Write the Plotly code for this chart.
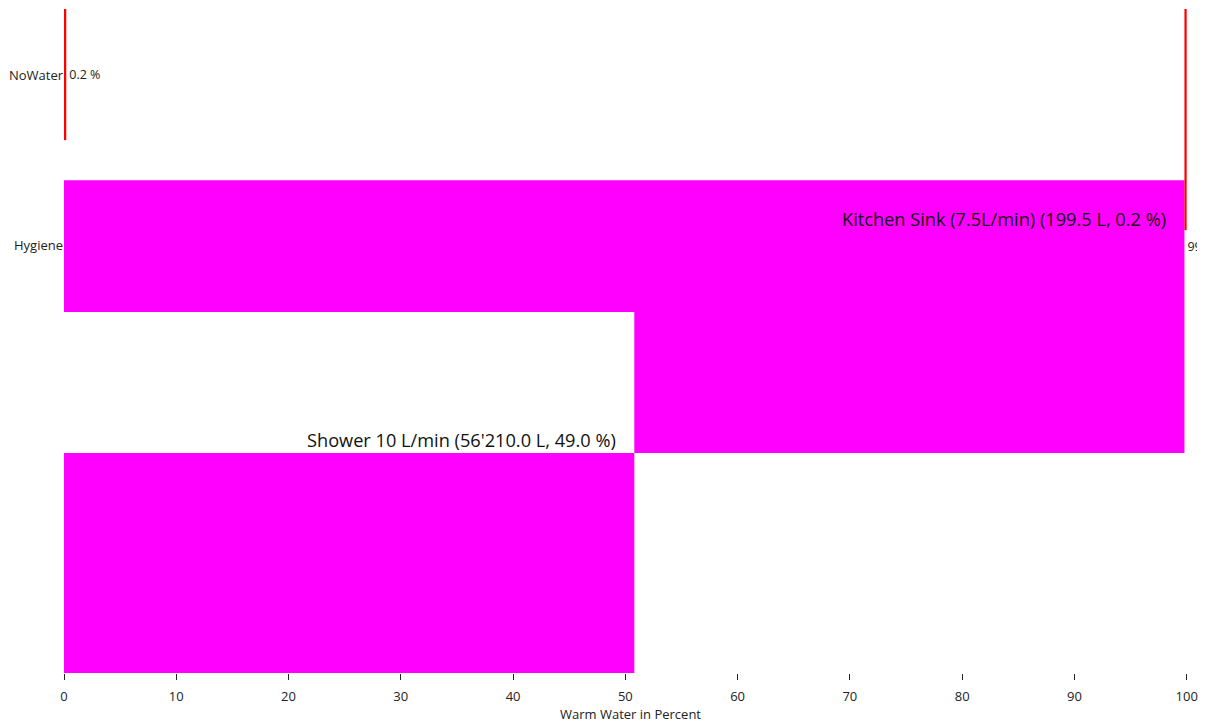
import plotly.graph_objects as go

# ---- data (axis units) ----
row_labels = ["NoWater", "Hygiene"]
row_pos = [0, 1]

bar_names = ["NoWater", "Hygiene", "Kitchen Sink (7.5L/min)", "Shower 10 L/min", "Other"]
x_start = [0.0, 0.0, 99.8, 50.8, 0.0]
x_len = [0.2, 99.8, 0.2, 49.0, 50.8]
y_top = [-0.39, 0.618, -0.39, 1.394, 2.224]
y_bot = [0.382, 1.394, 0.912, 2.224, 3.52]
colors = ["#ff0000", "#ff00ff", "#ff0000", "#ff00ff", "#ff00ff"]
bar_text = ["0.2 %", "99.8 %", "", "", ""]

note_texts = ["Kitchen Sink (7.5L/min) (199.5 L, 0.2 %)", "Shower 10 L/min (56'210.0 L, 49.0 %)"]
note_idx = [2, 3]

x_ticks = [0, 10, 20, 30, 40, 50, 60, 70, 80, 90, 100]

FONT = "Open Sans"
note_yshift = [-3, -1]

fig = go.Figure()
for i in range(len(bar_names)):
    fig.add_trace(go.Bar(
        orientation="h",
        y=[(y_top[i] + y_bot[i]) / 2],
        x=[x_len[i]],
        base=[x_start[i]],
        width=[y_bot[i] - y_top[i]],
        marker=dict(color=colors[i], line=dict(width=0)),
        text=[bar_text[i]],
        textposition="outside",
        textfont=dict(size=12.5, color="#222222", family=FONT),
        cliponaxis=True,
        name=bar_names[i],
        showlegend=False,
    ))

for k, (t, i) in enumerate(zip(note_texts, note_idx)):
    fig.add_annotation(
        x=x_start[i], y=y_bot[i], xref="x", yref="y",
        text=t, showarrow=False, xanchor="right", yanchor="bottom",
        xshift=-16, yshift=note_yshift[k],
        font=dict(size=18.2, color="#111111", family=FONT),
    )

fig.update_layout(
    width=1199, height=716,
    margin=dict(l=56, r=10, t=1, b=51),
    plot_bgcolor="white", paper_bgcolor="white",
    barmode="overlay",
    font=dict(family=FONT, size=13, color="#222222"),
    xaxis=dict(
        range=[0, 100.92], tickvals=x_ticks, ticks="outside", ticklen=6,
        ticklabelstandoff=5,
        tickcolor="#222222", showgrid=False, zeroline=False, showline=False,
        title=dict(text="Warm Water in Percent", font=dict(size=13), standoff=3),
        tickfont=dict(size=13),
    ),
    yaxis=dict(
        range=[3.52, -0.39], tickvals=row_pos, ticktext=row_labels, ticks="",
        showgrid=False, zeroline=False, showline=False, tickfont=dict(size=13),
    ),
)

fig.write_html("out.html")
